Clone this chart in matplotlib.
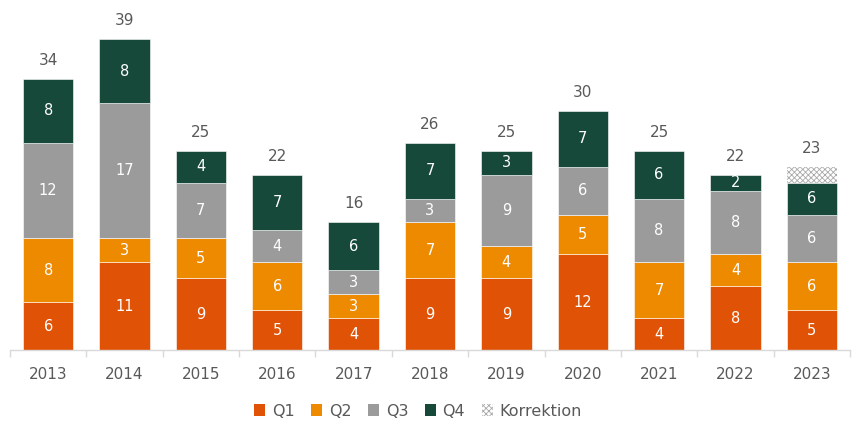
import matplotlib
matplotlib.use("Agg")
import matplotlib.pyplot as plt
from matplotlib.patches import Patch
import numpy as np

plt.rcParams['font.family'] = ['DejaVu Sans']
plt.rcParams['hatch.linewidth'] = 0.6

years = ['2013', '2014', '2015', '2016', '2017', '2018', '2019', '2020', '2021', '2022', '2023']
q1 = [6, 11, 9, 5, 4, 9, 9, 12, 4, 8, 5]
q2 = [8, 3, 5, 6, 3, 7, 4, 5, 7, 4, 6]
q3 = [12, 17, 7, 4, 3, 3, 9, 6, 8, 8, 6]
q4 = [8, 8, 4, 7, 6, 7, 3, 7, 6, 2, 6]
korrektion = [0, 0, 0, 0, 0, 0, 0, 0, 0, 0, 2]
totals = [34, 39, 25, 22, 16, 26, 25, 30, 25, 22, 23]

colors = {'Q1': '#E05206', 'Q2': '#EE8A00', 'Q3': '#9B9B9B', 'Q4': '#17493B'}
text_gray = '#595959'
hatch_col = '#A8A8A8'
hatch_pat = 'xxxxxx'

fig = plt.figure(figsize=(8.52, 4.23), dpi=100)
ax = fig.add_axes([10/852, (423-350)/423, 840/852, 350/423])

x = np.arange(len(years))
w = 0.66
q4_vis = [a - b for a, b in zip(q4, korrektion)]
series = [('Q1', q1, q1), ('Q2', q2, q2), ('Q3', q3, q3), ('Q4', q4_vis, q4)]
bottom = np.zeros(len(years))
for name, vals, labels in series:
    vals = np.array(vals, dtype=float)
    ax.bar(x, vals, w, bottom=bottom, color=colors[name], edgecolor='white', linewidth=0.4)
    for xi, b, v, lab in zip(x, bottom, vals, labels):
        if v > 0:
            ax.text(xi, b + v/2, str(lab), ha='center', va='center', color='white', fontsize=10.5)
    bottom += vals

k = np.array(korrektion, dtype=float)
ax.bar(x, k, w, bottom=bottom, color='white', edgecolor=hatch_col, hatch=hatch_pat, linewidth=0)
bottom += k

for xi, top, t in zip(x, bottom, totals):
    ax.text(xi, top + 1.4, str(t), ha='center', va='bottom', color=text_gray, fontsize=11)

ax.set_xlim(-0.5, len(years) - 0.5)
ax.set_ylim(0, 350/7.97)
for s in ['top', 'right', 'left']:
    ax.spines[s].set_visible(False)
ax.spines['bottom'].set_color('#D9D9D9')
ax.spines['bottom'].set_linewidth(1)
ax.set_yticks([])
ax.set_xticks(x)
ax.set_xticklabels(years, color=text_gray, fontsize=11)
ax.tick_params(axis='x', length=0, pad=12)
ax.set_xticks(np.arange(-0.5, len(years), 1), minor=True)
ax.tick_params(axis='x', which='minor', length=5, color='#D9D9D9', width=1)

handles = [Patch(facecolor=colors[n], edgecolor='none') for n in ['Q1', 'Q2', 'Q3', 'Q4']]
handles.append(Patch(facecolor='white', edgecolor=hatch_col, hatch=hatch_pat, linewidth=0))
leg = fig.legend(handles, ['Q1', 'Q2', 'Q3', 'Q4', 'Korrektion'], loc='center',
                 bbox_to_anchor=(418/852, 1 - 411/423), ncol=5, frameon=False,
                 fontsize=11.5, handlelength=0.7, handleheight=0.7, handletextpad=0.4,
                 columnspacing=1.05)
for t in leg.get_texts():
    t.set_color(text_gray)

fig.savefig('out.png', dpi=100)
